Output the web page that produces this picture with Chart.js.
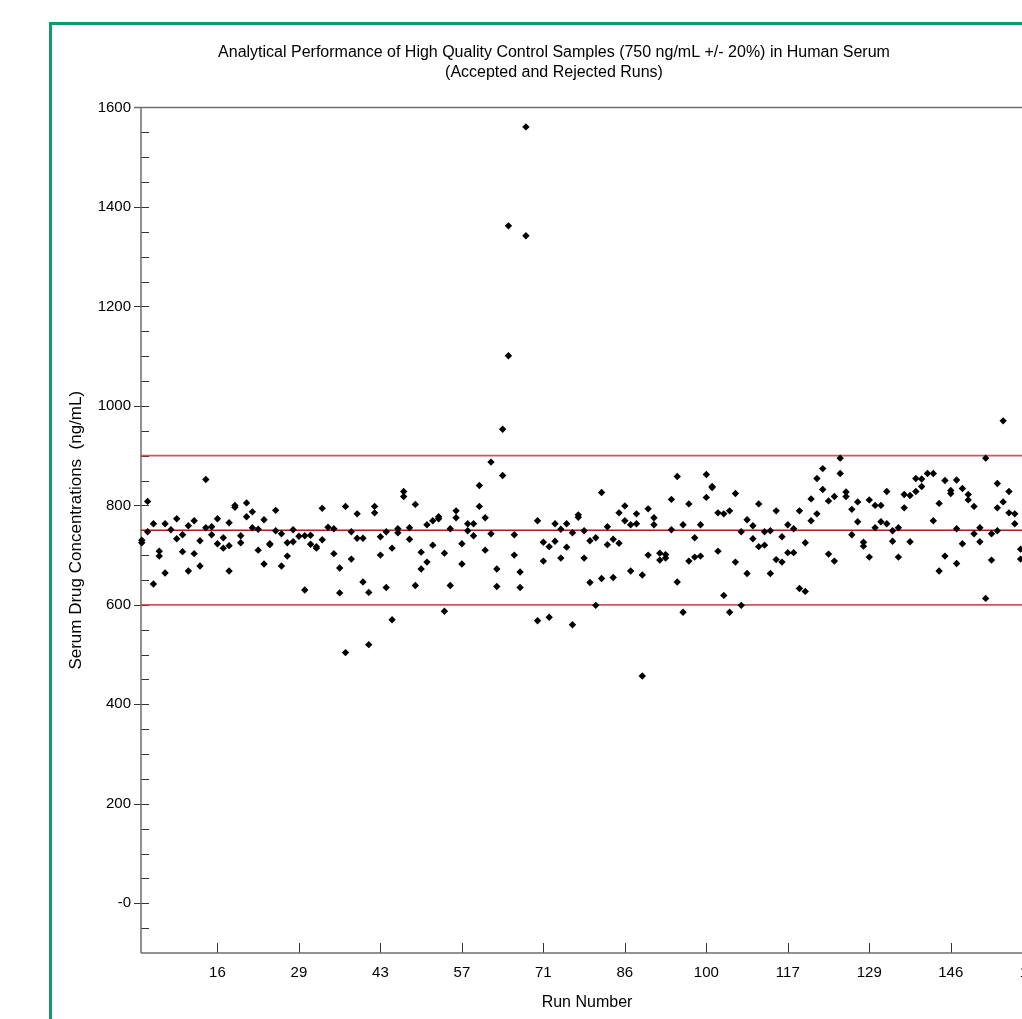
<!DOCTYPE html>
<html>
<head>
<meta charset="utf-8">
<script src="https://cdn.jsdelivr.net/npm/chart.js@4.4.1/dist/chart.umd.min.js"></script>
<style>
  html, body { margin: 0; padding: 0; background: #ffffff; overflow: hidden; width: 1022px; height: 1019px; }
  #wrap { position: absolute; left: 0; top: 0; width: 1060px; height: 1019px; }
  #frame { position: absolute; left: 48.5px; top: 21.5px; width: 1100px; height: 1100px;
           border-left: 3.5px solid #14996a; border-top: 3.5px solid #14996a; pointer-events: none; }
</style>
</head>
<body>
<div id="wrap"><canvas id="c" width="1060" height="1019"></canvas></div>
<div id="frame"></div>
<script>
// ---- Data ----
const chartTitle = ['Analytical Performance of High Quality Control Samples (750 ng/mL +/- 20%) in Human Serum',
                    '(Accepted and Rejected Runs)'];
const xAxisTitle = 'Run Number';
const yAxisTitle = 'Serum Drug Concentrations  (ng/mL)';

// QC results for each plotted run position (position = array index + 1)
const qcByPosition = [
  [730,725],[808,747],[763,642],[708,698],[763,664],[751],[773,733],[741,707],[759,668],[769,703],
  [729,678],[852,755],[757,741],[773,723],[735,714],[765,719,668],[800,796],[739,725],[805,777],[787,755],
  [752,710],[771,682],[723,721],[790,749],[743,678],[725,698],[751,727],[738],[739,630],[740,722],
  [717,714],[794,731],[756],[753,703],[674,624],[798,504],[747,692],[783,734],[734,646],[625,520],
  [798,785],[737,700],[747,635],[714,570],[753,745],[828,818],[755,732],[802,639],[706,672],[761,686],
  [769,720],[777,773],[704,587],[753,639],[789,775],[723,682],[763,749],[763,739],[840,798],[775,710],
  [887,743],[672,637],[953,860],[1362,1101],[741,700],[666,635],[1561,1342],[],[769,568],[726,688],
  [717,575],[763,728],[752,694],[763,716],[745,560],[781,776],[749,694],[729,645],[735,599],[826,653],
  [757,721],[732,655],[785,724],[799,769],[761,668],[783,763],[660,457],[793,700],[775,761],[704,690],
  [701,694],[812,751],[858,646],[761,585],[803,688],[735,696],[761,698],[862,816],[838,836],[785,708],
  [783,619],[789,585],[824,686],[747,599],[771,663],[759,733],[803,717],[747,720],[749,663],[789,691],
  [737,686],[761,705],[753,705],[789,633],[725,627],[813,769],[854,783],[874,832],[809,702],[818,688],
  [895,864],[827,818],[792,741],[807,767],[726,718],[811,696],[800,755],[800,767],[828,763],[749,728],
  [755,696],[822,795],[820,727],[854,828],[853,838],[864],[864,769],[804,668],[850,698],[830,824],
  [851,753,683],[834,723],[822,811],[798,743],[755,727],[895,613],[743,690],[844,795,749],[970,807],[828,785],
  [783,763],[712,692]
];

const xTickPositions = [14, 28, 42, 56, 70, 84, 98, 112, 126, 140, 154];
const xTickLabels    = ['16','29','43','57','71','86','100','117','129','146','160'];
const yTickValues    = [0, 200, 400, 600, 800, 1000, 1200, 1400, 1600];
const yTickLabels    = ['-0','200','400','600','800','1000','1200','1400','1600'];

const targetValue = 750;
const upperLimit  = 900;
const lowerLimit  = 600;

const xMin = 0.863, xMax = 154.13;
const yMin = -100, yMax = 1600;

// ---- Build points ----
const points = [];
qcByPosition.forEach((vals, i) => vals.forEach(v => points.push({x: i + 1, y: v})));

const hLine = v => [{x: xMin, y: v}, {x: xMax, y: v}];

const FONT = "'Liberation Sans', Arial, sans-serif";

const axisDecor = {
  id: 'axisDecor',
  beforeDatasetsDraw(chart) {
    const {ctx, chartArea: a, scales: {x, y}} = chart;
    ctx.save();
    ctx.strokeStyle = '#333333';
    ctx.lineWidth = 1;
    ctx.beginPath();
    for (let v = yMin + 50; v < yMax; v += 50) {
      const py = Math.round(y.getPixelForValue(v)) + 0.5;
      const major = yTickValues.includes(v);
      ctx.moveTo(major ? a.left - 7 : a.left, py);
      ctx.lineTo(a.left + 8, py);
    }
    xTickPositions.forEach(t => {
      const px = Math.round(x.getPixelForValue(t)) + 0.5;
      ctx.moveTo(px, a.bottom);
      ctx.lineTo(px, a.bottom - 10);
    });
    ctx.stroke();
    ctx.strokeStyle = '#6e6e6e';
    ctx.lineWidth = 1.5;
    ctx.beginPath();
    const yTop = y.getPixelForValue(yMax);
    ctx.moveTo(a.left - 7, yTop); ctx.lineTo(a.right + 40, yTop);
    ctx.moveTo(a.left, yTop); ctx.lineTo(a.left, a.bottom);
    ctx.moveTo(a.left, a.bottom); ctx.lineTo(a.right + 40, a.bottom);
    ctx.stroke();
    ctx.restore();
  }
};

new Chart(document.getElementById('c'), {
  type: 'scatter',
  data: {
    datasets: [
      { type: 'line', data: hLine(upperLimit), borderColor: 'rgba(200,70,70,0.9)', borderWidth: 1.6, pointRadius: 0, order: 2 },
      { type: 'line', data: hLine(lowerLimit), borderColor: 'rgba(200,70,70,0.9)', borderWidth: 1.6, pointRadius: 0, order: 2 },
      { type: 'line', data: hLine(targetValue), borderColor: '#a81c1c', borderWidth: 1.5, pointRadius: 0, order: 2 },
      { data: points, pointStyle: 'rectRot', pointRadius: 3.7, backgroundColor: '#000', borderColor: '#000', borderWidth: 0, order: 0 }
    ]
  },
  options: {
    responsive: false,
    animation: false,
    devicePixelRatio: 1,
    clip: false,
    layout: { padding: { left: 75, right: 27, top: 0, bottom: 0 } },
    plugins: {
      legend: { display: false },
      tooltip: { enabled: false },
      title: {
        display: true,
        text: chartTitle,
        color: '#000',
        font: { family: FONT, size: 16, weight: 'normal', lineHeight: 20 / 16 },
        padding: { top: 42.5, bottom: 25 }
      }
    },
    scales: {
      x: {
        type: 'linear',
        min: xMin, max: xMax,
        afterBuildTicks: s => { s.ticks = xTickPositions.map(v => ({value: v})); },
        afterFit: s => { s.height = 66; },
        grid: { display: false, drawTicks: false },
        border: { display: false },
        ticks: {
          autoSkip: false, maxRotation: 0, padding: 11, color: '#000',
          font: { family: FONT, size: 15 },
          callback: v => { const i = xTickPositions.indexOf(v); return i >= 0 ? xTickLabels[i] : ''; }
        },
        title: {
          display: true, text: xAxisTitle, color: '#000',
          font: { family: FONT, size: 16 }, padding: { top: 0, bottom: 6.4 }
        }
      },
      y: {
        type: 'linear',
        min: yMin, max: yMax,
        afterBuildTicks: s => { s.ticks = yTickValues.map(v => ({value: v})); },
        afterFit: s => { s.width = 66; },
        grid: { display: false, drawTicks: false },
        border: { display: false },
        ticks: {
          autoSkip: false, padding: 10, color: '#000',
          font: { family: FONT, size: 15 },
          callback: v => { const i = yTickValues.indexOf(v); return i >= 0 ? yTickLabels[i] : ''; }
        },
        title: {
          display: true, text: yAxisTitle, color: '#000',
          font: { family: FONT, size: 17 }, padding: { top: -9.2, bottom: 0 }
        }
      }
    }
  },
  plugins: [axisDecor]
});
</script>
</body>
</html>
